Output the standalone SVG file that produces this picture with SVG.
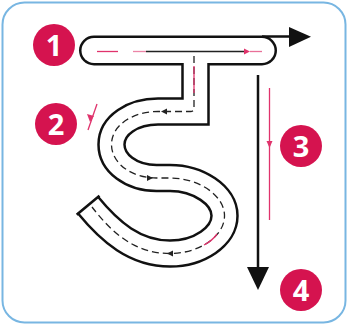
<svg xmlns="http://www.w3.org/2000/svg" width="348" height="325" viewBox="0 0 348 325">
<style>
.ob{fill:none;stroke:#111;stroke-linejoin:miter}
.iw{fill:none;stroke:#fff;stroke-linejoin:miter}
.guide{fill:none;stroke:#222;stroke-width:1.3;stroke-dasharray:7 4}
.pk{fill:none;stroke:#e0336c;stroke-width:1.3}
.pkf{fill:#e0336c}
.bub{fill:#d5134f}
.num{font-family:"Open Sans","Noto Sans",sans-serif;font-weight:700;font-size:29px;fill:#fff;text-anchor:middle}
</style>
<rect x="2.5" y="2.5" width="343" height="320" rx="22" fill="#fff" stroke="#78b6e2" stroke-width="2"/>
<g id="letter">
<line class="ob" x1="94" y1="50.5" x2="262" y2="50.5" stroke-width="30" stroke-linecap="round"/>
<path id="sband" class="ob" stroke-width="28.5" d="M195.5,50.5 V111.5 H158 C133,111.5 111.5,125 111.5,144.5 C111.5,163 131,178 156.5,178 H170 C198,178 224.5,195 224.5,215.75 C224.5,236.6 199,253.5 170,253.5 C135,253.5 110,232 87.5,204.5"/>
<line class="iw" x1="94" y1="50.5" x2="262" y2="50.5" stroke-width="25" stroke-linecap="round"/>
<path class="iw" stroke-width="23.5" d="M195.5,50.5 V111.5 H158 C133,111.5 111.5,125 111.5,144.5 C111.5,163 131,178 156.5,178 H170 C198,178 224.5,195 224.5,215.75 C224.5,236.6 199,253.5 170,253.5 C135,253.5 110,232 87.5,204.5"/>
<line x1="99.5" y1="195.8" x2="76.7" y2="214.8" stroke="#111" stroke-width="2.5"/>
</g>
<g id="guides">
<line class="pk" x1="97" y1="51.5" x2="118" y2="51.5" stroke-width="1.8"/>
<line class="pk" x1="133" y1="51.5" x2="146" y2="51.5" opacity="0.6"/>
<line x1="146" y1="51.5" x2="246" y2="51.5" stroke="#222" stroke-width="1.5"/>
<polygon class="pkf" points="250,51.5 244,48.5 244,54.5"/>
<line class="pk" x1="250" y1="51.5" x2="262" y2="51.5" opacity="0.7"/>
<path class="guide" d="M194,56 V108 Q194,111.5 190.5,111.5 H158 C133,111.5 111.5,125 111.5,144.5 C111.5,163 131,178 156.5,178 H170 C198,178 224.5,195 224.5,215.75 C224.5,236.6 199,253.5 170,253.5 C135,253.5 112,233 92,207"/>
<line class="pk" x1="194" y1="66" x2="194" y2="93" stroke-width="1.8"/>
<path class="pk" d="M217,234 Q212,241 204,245" stroke-width="1.8"/>
<polygon fill="#222" points="161,111.5 167,108.5 167,114.5"/>
<polygon fill="#222" points="153,178 147,175 147,181"/>
<polygon fill="#222" points="167,253.5 173,250.5 173,256.5"/>
</g>
<g id="arrows">
<line x1="262" y1="36.5" x2="292" y2="36.5" stroke="#111" stroke-width="2.5"/>
<polygon fill="#111" points="289,27 311,36.7 289,47"/>
<line x1="258" y1="75" x2="258" y2="270" stroke="#111" stroke-width="2.5"/>
<polygon fill="#111" points="247,267 269,267 258,290"/>
<line class="pk" x1="269.5" y1="88" x2="269.5" y2="220" stroke-width="1.1"/>
<polygon class="pkf" points="269.5,148 266.5,141 272.5,141"/>
<line class="pk" x1="97" y1="104" x2="88" y2="130" stroke-width="1.6"/>
<polygon class="pkf" points="90,122 87,114 94,116"/>
</g>
<g id="n1"><circle class="bub" cx="54" cy="45" r="21"/><text class="num" x="54" y="55.5">1</text></g>
<g id="n2"><circle class="bub" cx="56" cy="124" r="21"/><text class="num" x="56" y="134.5">2</text></g>
<g id="n3"><circle class="bub" cx="301" cy="146" r="21"/><text class="num" x="301" y="156.5">3</text></g>
<g id="n4"><circle class="bub" cx="301" cy="290" r="21"/><text class="num" x="301" y="300.5">4</text></g>
</svg>
